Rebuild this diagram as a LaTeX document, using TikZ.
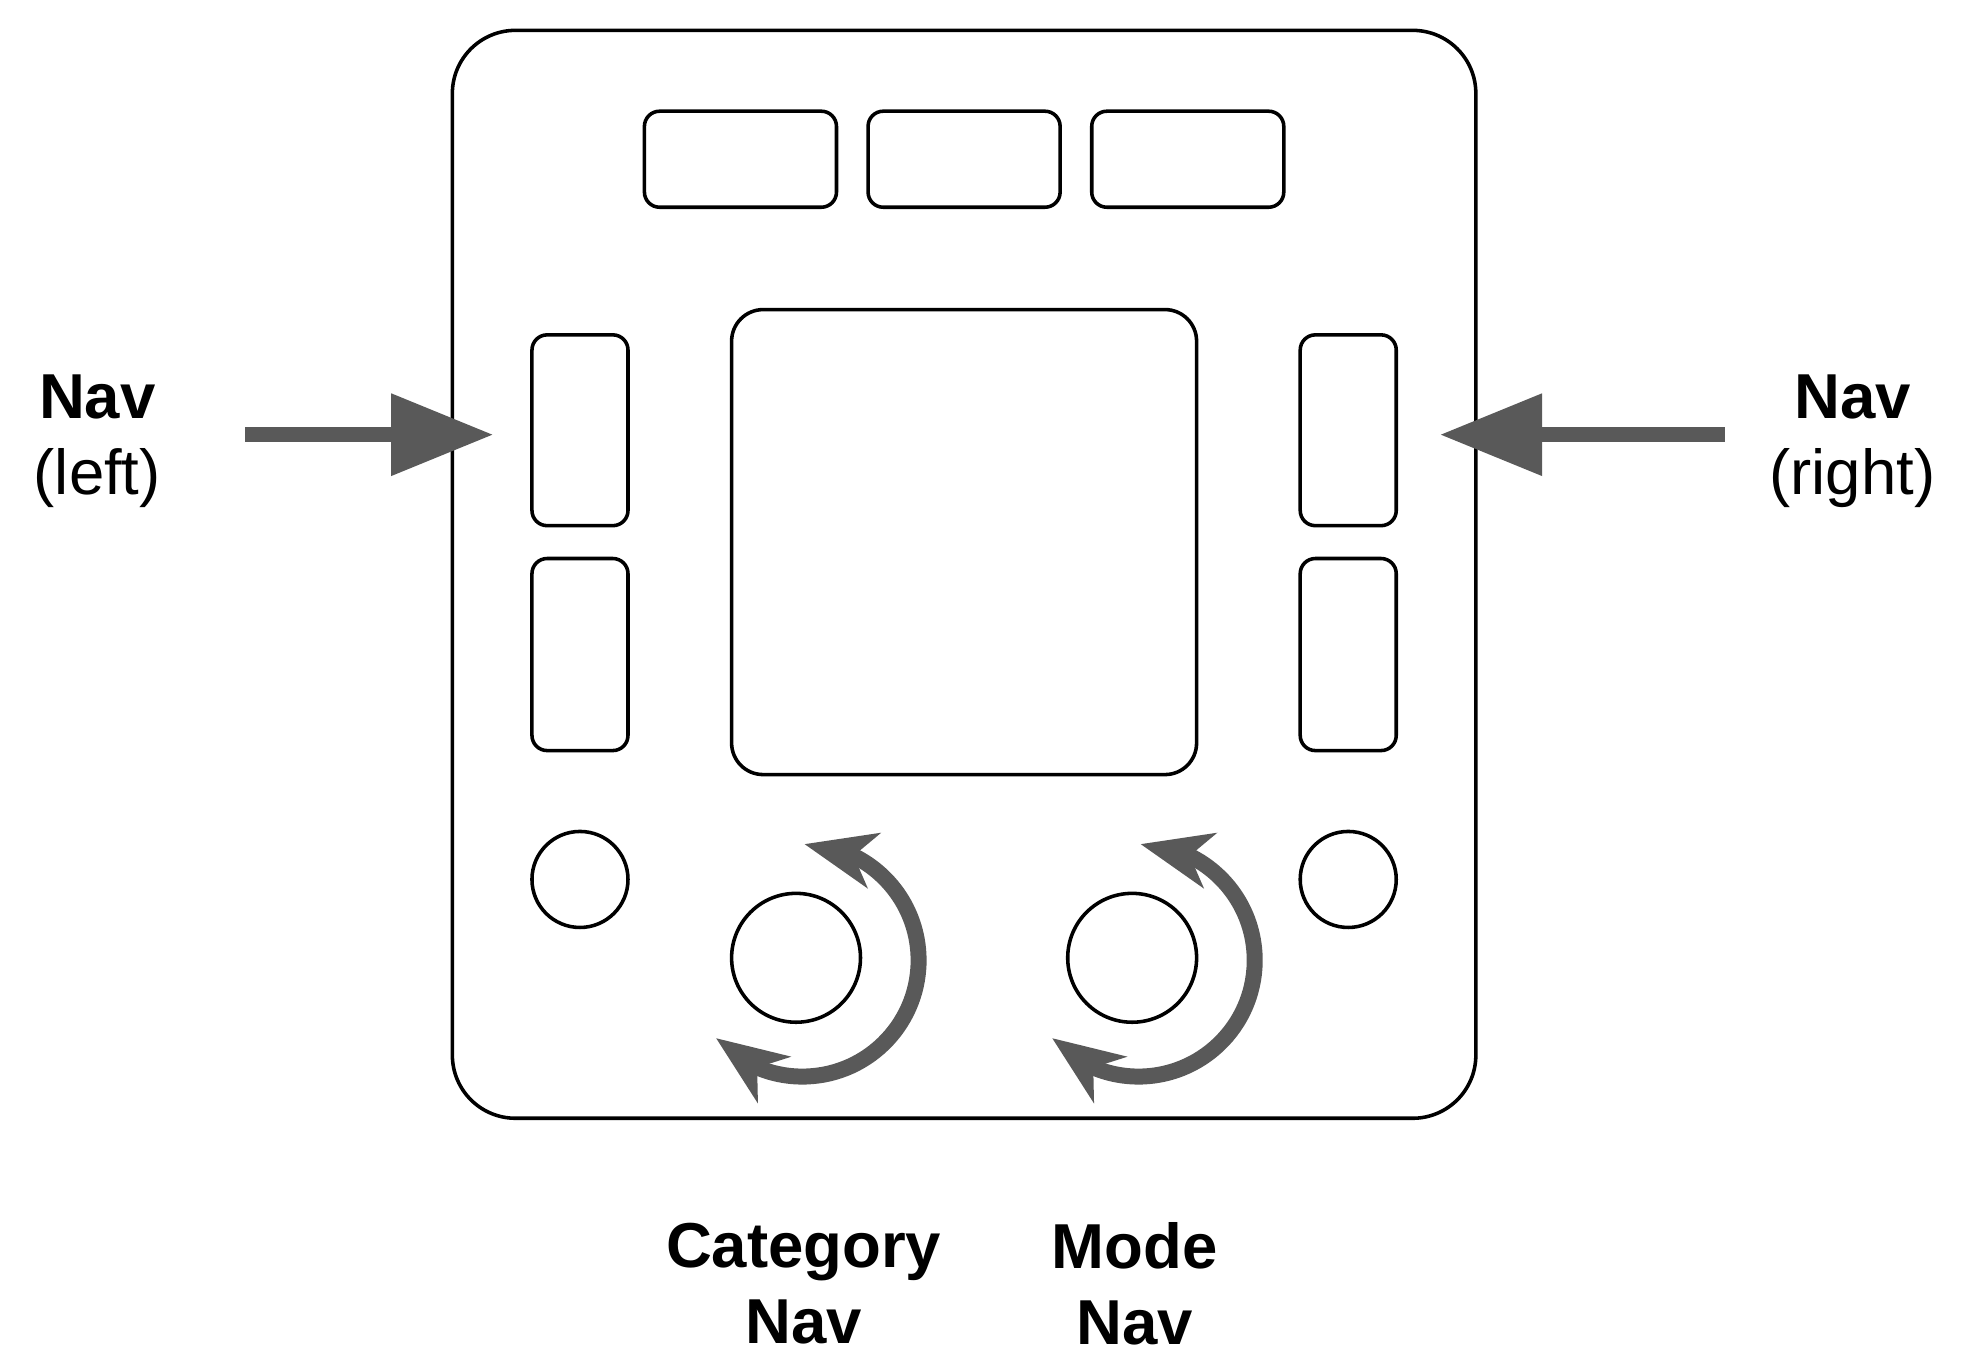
\documentclass[tikz,border=0pt]{standalone}
\usepackage{fontspec}
\setmainfont{Liberation Sans}
\usepackage{xcolor}
\usetikzlibrary{arrows.meta, bending}
\definecolor{navgray}{RGB}{89,89,89}

\begin{document}
\begin{tikzpicture}[
    part/.style={draw, line width=0.8pt, rounded corners=#1, inner sep=0pt},
    part/.default=0.12cm,
    knob/.style={circle, draw, line width=0.8pt, inner sep=0pt, minimum size=#1},
    navarrow/.style={draw=navgray, line width=3.4pt, -{Triangle[length=0.81cm, width=0.62cm, color=navgray]}},
    rottip/.tip={Stealth[length=0.56cm, width=0.44cm, inset=0.16cm, flex, color=navgray]},
    rotarrow/.style={draw=navgray, line width=3.6pt, rottip-rottip},
    lbl/.style={align=center, font=\fontsize{14.3}{17}\selectfont, inner sep=0pt}
  ]
  \useasboundingbox (0,0) rectangle (15.67,-10.73);
  % Корпус
  \node[part=0.5cm, minimum width=8.10cm, minimum height=8.61cm] (body) at (7.63,-4.545) {};
  % Верхние кнопки
  \foreach \i/\x in {1/5.86, 2/7.63, 3/9.40} {
    \node[part, minimum width=1.52cm, minimum height=0.76cm] (top\i) at (\x,-1.26) {};
  }
  % Боковые кнопки
  \foreach \s/\x in {L/4.59, R/10.67} {
    \node[part, minimum width=0.76cm, minimum height=1.51cm] (btn\s1) at (\x,-3.405) {};
    \node[part, minimum width=0.76cm, minimum height=1.52cm] (btn\s2) at (\x,-5.18) {};
    \node[knob=0.76cm] (dot\s) at (\x,-6.96) {};
  }
  % Экран
  \node[part=0.25cm, minimum width=3.68cm, minimum height=3.68cm] (screen) at (7.63,-4.29) {};
  % Ручки и стрелки вращения
  \foreach \n/\x in {cat/6.30, mode/8.96} {
    \node[knob=1.02cm] (\n) at (\x,-7.58) {};
    \draw[rotarrow] ([shift={(89:0.92)}, xshift=0.05cm, yshift=-0.02cm]\n.center)
      arc[start angle=89, end angle=-138, radius=0.92];
  }
  % Подписи
  \node[lbl] (navl) at (0.77,-3.49) {\textbf{Nav}\\(left)};
  \node[lbl] (navr) at (14.66,-3.49) {\textbf{Nav}\\(right)};
  \node[lbl] (catl) at (6.36,-10.16) {\textbf{Category}\\\textbf{Nav}};
  \node[lbl] (model) at (8.98,-10.16) {\textbf{Mode}\\\textbf{Nav}};
  % Стрелки навигации
  \coordinate (la) at (1.94,-3.44);
  \coordinate (ra) at (13.65,-3.44);
  \draw[navarrow, shorten >=0.29cm] (la) -- (la -| btnL1.west);
  \draw[navarrow, shorten >=0.33cm] (ra) -- (ra -| btnR1.east);
\end{tikzpicture}
\end{document}
